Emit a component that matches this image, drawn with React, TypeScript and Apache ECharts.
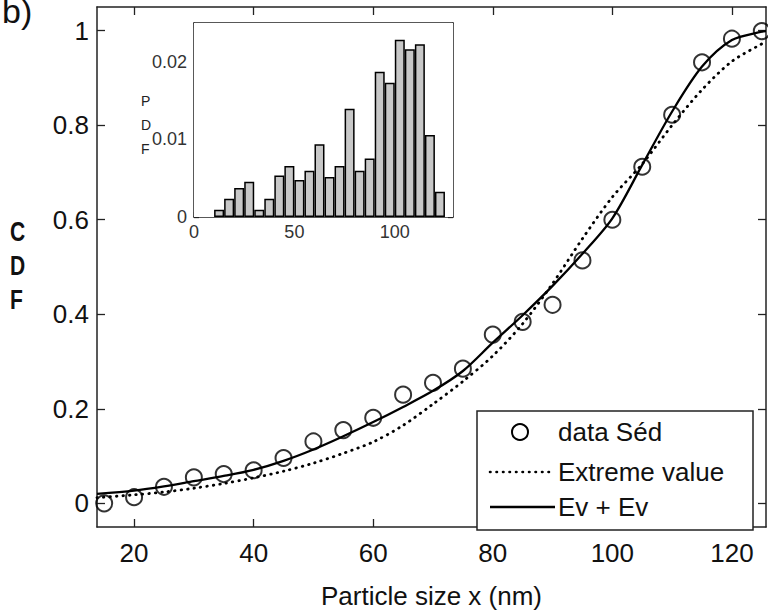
import React, { useEffect, useRef } from "react";
import * as echarts from "echarts";

// ---- data ----
const sizeX = [15, 20, 25, 30, 35, 40, 45, 50, 55, 60, 65, 70, 75, 80, 85, 90, 95, 100, 105, 110, 115, 120, 125];
const dataSed = [0.0, 0.013, 0.035, 0.055, 0.062, 0.07, 0.096, 0.131, 0.155, 0.181, 0.23, 0.255, 0.285, 0.357, 0.384, 0.42, 0.514, 0.6, 0.712, 0.822, 0.933, 0.983, 0.999];

const fitX = [13.8, 20, 25, 30, 35, 40, 45, 50, 55, 60, 65, 70, 75, 80, 85, 90, 95, 100, 105, 110, 115, 120, 125, 125.7];
const evEvFit = [0.02, 0.027, 0.036, 0.047, 0.058, 0.071, 0.09, 0.114, 0.142, 0.172, 0.204, 0.238, 0.28, 0.34, 0.398, 0.46, 0.528, 0.603, 0.716, 0.829, 0.924, 0.98, 0.998, 0.999];
const extremeFit = [0.012, 0.018, 0.024, 0.032, 0.042, 0.054, 0.068, 0.085, 0.106, 0.13, 0.165, 0.21, 0.258, 0.312, 0.38, 0.465, 0.56, 0.648, 0.718, 0.8, 0.875, 0.935, 0.972, 0.976];

const binCenters = [12.5, 17.5, 22.5, 27.5, 32.5, 37.5, 42.5, 47.5, 52.5, 57.5, 62.5, 67.5, 72.5, 77.5, 82.5, 87.5, 92.5, 97.5, 102.5, 107.5, 112.5, 117.5, 122.5];
const pdfValues = [0.00094, 0.00236, 0.00373, 0.00455, 0.00094, 0.00236, 0.00536, 0.00657, 0.00476, 0.00597, 0.00936, 0.00515, 0.00657, 0.01395, 0.00597, 0.00755, 0.01871, 0.0173, 0.02283, 0.02163, 0.02227, 0.01056, 0.00326];

const mainXTicks = [20, 40, 60, 80, 100, 120];
const mainYTicks = [0, 0.2, 0.4, 0.6, 0.8, 1];
const insetXTicks = [0, 50, 100];
const insetYTicks = [0, 0.01, 0.02];

const legendNames = ["data Séd", "Extreme value", "Ev + Ev"];

const FONT = "'Liberation Sans', Arial, Helvetica, sans-serif";

export default function App() {
  const ref = useRef<HTMLDivElement>(null);

  useEffect(() => {
    if (!ref.current) return;
    const chart = echarts.init(ref.current, undefined, { renderer: "svg" });

    const axisLine = { show: true, onZero: false, lineStyle: { color: "#222", width: 1.5 } };
    const tickIn = (vals: number[], len: number) => ({
      show: true,
      inside: true,
      length: len,
      customValues: vals,
      lineStyle: { color: "#222", width: 1.3 },
    });

    const bigLetter = (t: string, y: number) => ({
      type: "text", x: 10, y, scaleX: 0.78, z: 100,
      style: { text: t, fontSize: 27, fontWeight: "bold", fontFamily: FONT, fill: "#111" },
    });
    const smallLetter = (t: string, y: number) => ({
      type: "text", x: 141, y, z: 100,
      style: { text: t, fontSize: 14, fontFamily: FONT, fill: "#222", verticalAlign: "middle" },
    });

    const option: any = {
      animation: false,
      backgroundColor: "#fff",
      grid: [
        { left: 97, top: 7, width: 669, height: 534, show: false },
        { left: 194, top: 23, width: 259, height: 194, show: true, backgroundColor: "#fff", borderWidth: 0, z: 5 },
      ],
      xAxis: [
        {
          type: "value", gridIndex: 0, position: "bottom", min: 13.8, max: 125.7,
          axisLine, axisTick: tickIn(mainXTicks, 8), splitLine: { show: false },
          axisLabel: { customValues: mainXTicks, fontSize: 26, color: "#111", fontFamily: FONT, margin: 13 },
          name: "Particle size x (nm)", nameLocation: "middle", nameGap: 56,
          nameTextStyle: { fontSize: 26, color: "#111", fontFamily: FONT },
        },
        {
          type: "value", gridIndex: 0, position: "top", min: 13.8, max: 125.7,
          axisLine, axisTick: tickIn(mainXTicks, 8), splitLine: { show: false }, axisLabel: { show: false },
        },
        {
          type: "value", gridIndex: 1, position: "bottom", min: 0, max: 129,
          axisLine, axisTick: tickIn(insetXTicks, 5), splitLine: { show: false },
          axisLabel: { customValues: insetXTicks, fontSize: 18, color: "#333", fontFamily: FONT, margin: 6 },
        },
        {
          type: "value", gridIndex: 1, position: "top", min: 0, max: 129,
          axisLine, axisTick: tickIn(insetXTicks, 5), splitLine: { show: false }, axisLabel: { show: false },
        },
      ],
      yAxis: [
        {
          type: "value", gridIndex: 0, position: "left", min: -0.05, max: 1.05,
          axisLine, axisTick: tickIn(mainYTicks, 8), splitLine: { show: false },
          axisLabel: {
            customValues: mainYTicks, fontSize: 26, color: "#111", fontFamily: FONT, margin: 8,
            formatter: (v: number) => String(Math.round(v * 10) / 10),
          },
        },
        {
          type: "value", gridIndex: 0, position: "right", min: -0.05, max: 1.05,
          axisLine, axisTick: tickIn(mainYTicks, 8), splitLine: { show: false }, axisLabel: { show: false },
        },
        {
          type: "value", gridIndex: 1, position: "left", min: 0, max: 0.025,
          axisLine, axisTick: tickIn(insetYTicks, 5), splitLine: { show: false },
          axisLabel: {
            customValues: insetYTicks, fontSize: 18, color: "#333", fontFamily: FONT, margin: 7,
            formatter: (v: number) => (v === 0 ? "0" : v.toFixed(2)),
          },
        },
        {
          type: "value", gridIndex: 1, position: "right", min: 0, max: 0.025,
          axisLine, axisTick: tickIn(insetYTicks, 5), splitLine: { show: false }, axisLabel: { show: false },
        },
      ],
      series: [
        {
          name: legendNames[1], type: "line", xAxisIndex: 0, yAxisIndex: 0,
          data: fitX.map((x, i) => [x, extremeFit[i]]), showSymbol: false, smooth: 0.3,
          lineStyle: { color: "#000", width: 2.8, type: [0.5, 6], cap: "round" }, z: 3,
        },
        {
          name: legendNames[2], type: "line", xAxisIndex: 0, yAxisIndex: 0,
          data: fitX.map((x, i) => [x, evEvFit[i]]), showSymbol: false, smooth: 0.3,
          lineStyle: { color: "#000", width: 2.3 }, z: 3,
        },
        {
          name: legendNames[0], type: "scatter", xAxisIndex: 0, yAxisIndex: 0,
          data: sizeX.map((x, i) => [x, dataSed[i]]), symbol: "circle", symbolSize: 16,
          itemStyle: { color: "rgba(0,0,0,0)", borderColor: "#000", borderWidth: 2 }, z: 4,
        },
        {
          name: "PDF", type: "bar", xAxisIndex: 2, yAxisIndex: 2,
          data: binCenters.map((x, i) => [x, pdfValues[i]]), barWidth: 10,
          itemStyle: { color: "#c8c8c8", borderColor: "#000", borderWidth: 1.5 }, z: 6,
        },
      ],
      graphic: [
        { type: "text", left: 2, top: -6, z: 100, style: { text: "b)", fontSize: 34, fontFamily: FONT, fill: "#111" } },
        bigLetter("C", 218),
        bigLetter("D", 252),
        bigLetter("F", 286),
        smallLetter("P", 101),
        smallLetter("D", 125),
        smallLetter("F", 149),
        // legend
        { type: "rect", z: 100, shape: { x: 477, y: 411, width: 276, height: 119 }, style: { fill: "#fff", stroke: "#222", lineWidth: 1.5 } },
        { type: "circle", z: 101, shape: { cx: 520, cy: 432, r: 8 }, style: { fill: "none", stroke: "#000", lineWidth: 2 } },
        { type: "text", z: 101, x: 558, y: 432, style: { text: legendNames[0], fontSize: 26, fontFamily: FONT, fill: "#111", verticalAlign: "middle" } },
        { type: "line", z: 101, shape: { x1: 490, y1: 472, x2: 555, y2: 472 }, style: { stroke: "#000", lineWidth: 2.6, lineDash: [0.5, 6], lineCap: "round" } },
        { type: "text", z: 101, x: 558, y: 472, style: { text: legendNames[1], fontSize: 26, fontFamily: FONT, fill: "#111", verticalAlign: "middle" } },
        { type: "line", z: 101, shape: { x1: 490, y1: 507, x2: 555, y2: 507 }, style: { stroke: "#000", lineWidth: 2.3 } },
        { type: "text", z: 101, x: 558, y: 507, style: { text: legendNames[2], fontSize: 26, fontFamily: FONT, fill: "#111", verticalAlign: "middle" } },
      ],
    };

    chart.setOption(option);
    return () => chart.dispose();
  }, []);

  return (
    <div
      ref={ref}
      style={{ position: "fixed", left: 0, top: 0, width: 768, height: 614, background: "#fff" }}
    />
  );
}
